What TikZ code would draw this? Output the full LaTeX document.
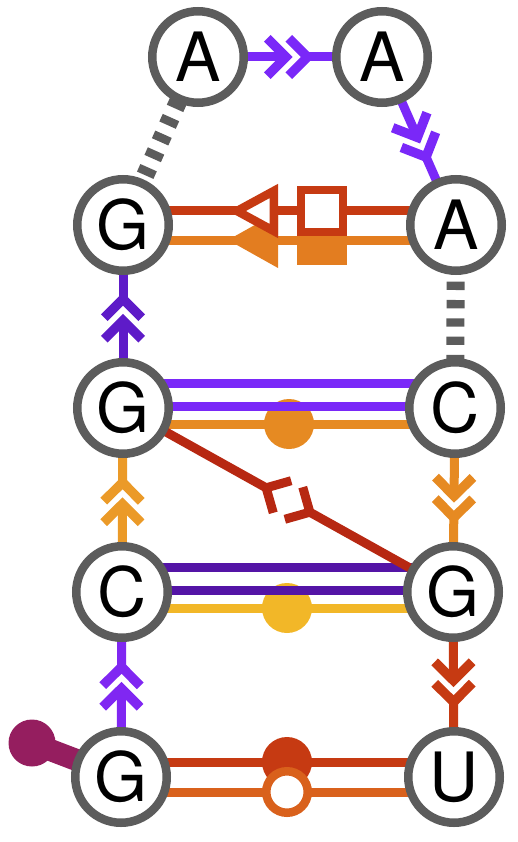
\documentclass[tikz,border=0pt]{standalone}
\usepackage{fontspec}
\setmainfont{TeX Gyre Heros}
\usetikzlibrary{calc,backgrounds}
\definecolor{gr}{HTML}{5C5C5C}
\definecolor{pu}{HTML}{7A28F8}
\definecolor{pb}{HTML}{8027F2}
\definecolor{pd}{HTML}{5E1BC8}
\definecolor{pk}{HTML}{5414A6}
\definecolor{ol}{HTML}{EB9A28}
\definecolor{or}{HTML}{E68A22}
\definecolor{oa}{HTML}{E37D20}
\definecolor{ob}{HTML}{D9611C}
\definecolor{ye}{HTML}{F2B728}
\definecolor{re}{HTML}{C63A12}
\definecolor{rd}{HTML}{B72812}
\definecolor{mg}{HTML}{951E5F}
\tikzset{
  nt/.style={circle,draw=gr,fill=white,line width=8.5pt,minimum size=91.5pt,inner sep=0pt,
    font=\fontsize{68}{68}\selectfont,text=black},
  bond/.style={line width=9pt},
  chev/.style={line width=9.5pt},
  dots/.style={draw=gr,line width=18pt,dash pattern=on 8.3pt off 10pt},
  disc/.style={circle,minimum size=50pt,inner sep=0pt,outer sep=0pt},
}
% directed bond with two chevrons: from, to, colour
\newcommand{\chevbond}[3]{%
  \coordinate (m) at ($(#1.center)!.5!(#2.center)$);
  \coordinate (p) at ($(m)!4pt!(#1.center)$);
  \coordinate (q) at ($(m)!17.5pt!(#2.center)$);
  \draw[bond,#3] (#1.center) -- (p);
  \draw[bond,#3] (q) -- (#2.center);
  \draw[chev,#3] ($(p)!26.5pt!135:(#2.center)$) -- (p) -- ($(p)!26.5pt!-135:(#2.center)$);
  \draw[chev,#3] ($(q)!26.5pt!135:(#2.center)$) -- (q) -- ($(q)!26.5pt!-135:(#2.center)$);
}
% straight row bond with a vertical offset
\newcommand{\rowbond}[4]{%
  \draw[bond,#4] ($(#1.center)+(0,#3)$) -- ($(#2.center)+(0,#3)$);
}
\begin{document}
\begin{tikzpicture}[x=1pt,y=-1pt]
\useasboundingbox (0,0) rectangle (518,842);
\node[nt] (A1) at (198,57) {A};
\node[nt] (A2) at (382,57) {A};
\node[nt] (G1) at (123,225) {G};
\node[nt] (A3) at (456,225) {A};
\node[nt] (G2) at (123,408) {G};
\node[nt] (C1) at (455,408) {C};
\node[nt] (C2) at (122,592) {C};
\node[nt] (G3) at (453,592) {G};
\node[nt] (G4) at (121,777) {G};
\node[nt] (U1) at (454,777) {U};
\begin{scope}[on background layer]
  % backbone
  \chevbond{A1}{A2}{pu}
  \chevbond{A2}{A3}{pu}
  \chevbond{G2}{G1}{pd}
  \chevbond{C2}{G2}{ol}
  \chevbond{G4}{C2}{pb}
  \chevbond{C1}{G3}{or}
  \chevbond{G3}{U1}{re}
  % dotted
  \draw[dots,dash phase=6.9pt] (A1.center) -- (G1.center);
  \draw[dots,dash phase=16.5pt] (A3.center) -- (C1.center);
  % row 1
  \rowbond{G1}{A3}{15}{oa}
  \fill[oa] (278,212) -- (278,268) -- (228,240) -- cycle;
  \node[rectangle,fill=oa,minimum size=50pt,inner sep=0pt] (sq2) at (322,240) {};
  \rowbond{G1}{A3}{-14}{re}
  \draw[re,fill=white,line width=8.5pt] (273.75,191) -- (273.75,231) -- (237,211) -- cycle;
  \node[rectangle,draw=re,fill=white,line width=8.5pt,minimum size=42pt,inner sep=0pt] (sq1) at (322,211) {};
  % row 2
  \rowbond{G2}{C1}{16}{or}
  \node[disc,fill=or] (d1) at (289,424) {};
  \rowbond{G2}{C1}{-25}{pu}
  \rowbond{G2}{C1}{-2}{pu}
  % row 3
  \rowbond{C2}{G3}{16}{ye}
  \node[disc,fill=ye] (d2) at (287,608) {};
  \rowbond{C2}{G3}{-25}{pk}
  \rowbond{C2}{G3}{-2}{pk}
  % diagonal
  \coordinate (dm) at ($(G2.center)!.5!(G3.center)$);
  \coordinate (dp) at ($(dm)!25pt!(G2.center)$);
  \coordinate (dq) at ($(dm)!25pt!(G3.center)$);
  \draw[bond,rd] (G2.center) -- (dp);
  \draw[bond,rd] (G3.center) -- (dq);
  \draw[bond,rd] ($(dp)!26pt!45:(dq)$) -- (dp) -- ($(dp)!26pt!-45:(dq)$);
  \draw[bond,rd] ($(dq)!26pt!45:(dp)$) -- (dq) -- ($(dq)!26pt!-45:(dp)$);
  % row 4
  \rowbond{G4}{U1}{-15}{re}
  \node[disc,fill=re] (d3) at (287,762) {};
  \rowbond{G4}{U1}{15}{ob}
  \node[disc,draw=ob,fill=white,line width=8.5pt,minimum size=41.5pt] (d4) at (287,792) {};
  % phosphate
  \node[circle,fill=mg,minimum size=47pt,inner sep=0pt] (ph) at (32,743) {};
  \draw[mg,line width=22pt] (ph.center) -- (G4.center);
\end{scope}
\end{tikzpicture}
\end{document}
